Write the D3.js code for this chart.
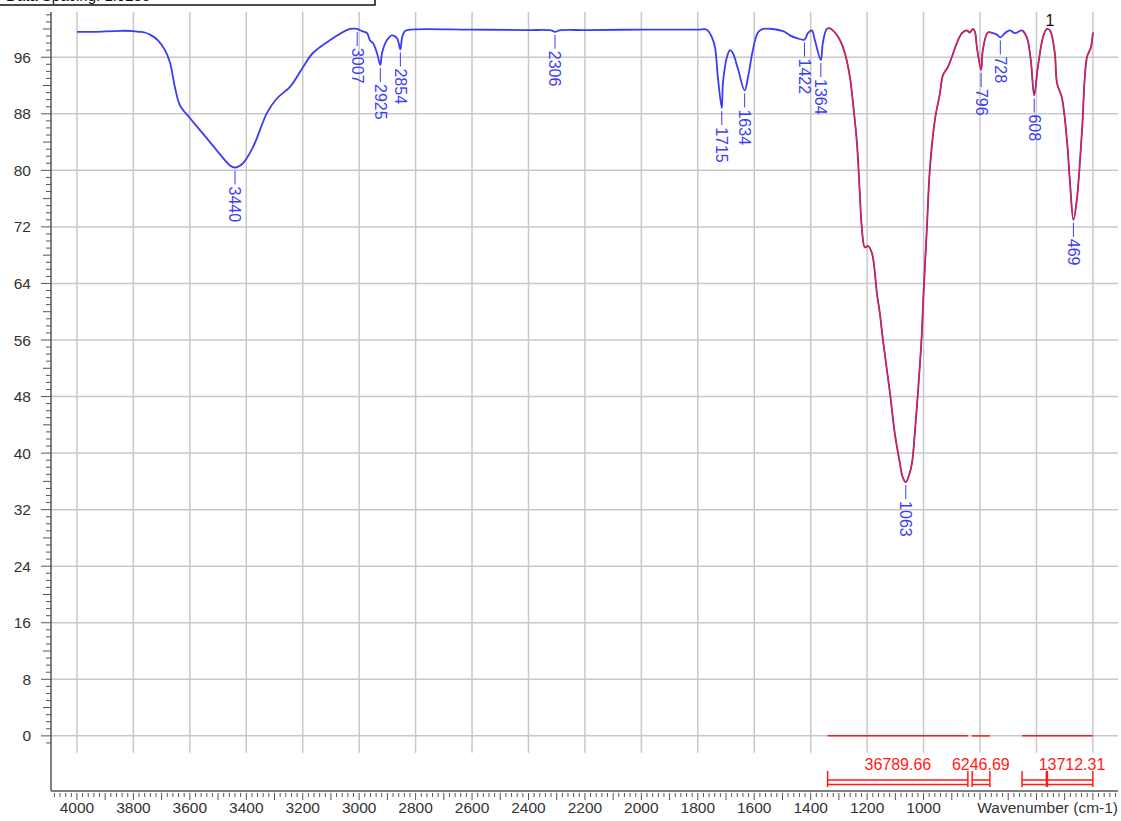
<!DOCTYPE html>
<html><head><meta charset="utf-8">
<script src="https://cdn.jsdelivr.net/npm/d3@7"></script>
<style>body{margin:0;background:#fff}svg{display:block;font-family:"Liberation Sans",Arial,sans-serif}</style>
</head><body><svg id="c" width="1121" height="821"></svg>
<script>
// ---- data ----
const wavenumbers = [4000,3950,3900,3860,3830,3800,3780,3760,3741,3713,3688,3670,3653,3635,3600,3564,3504,3458,3440,3412,3376,3327,3291,3245,3199,3164,3104,3033,3015,3007,2990,2972,2962,2951,2937,2925,2919,2902,2884,2866,2854,2848,2838,2820,2600,2400,2320,2306,2290,2200,2000,1800,1768,1750,1739,1729,1715,1711,1697,1686,1676,1658,1634,1622,1605,1587,1569,1498,1474,1449,1422,1410,1396,1385,1364,1357,1343,1332,1314,1296,1279,1261,1250,1236,1226,1219,1208,1197,1183,1165,1155,1144,1119,1102,1084,1074,1063,1052,1041,1031,1020,1006,1002,988,978,960,942,931,914,900,882,864,847,836,825,818,811,796,790,772,754,740,728,712,694,676,651,634,620,608,595,577,563,552,535,527,510,492,481,469,457,439,421,407,400];
const transmittance = [99.6,99.6,99.65,99.7,99.75,99.7,99.6,99.5,99.2,98.4,97.0,95.2,91.8,89.2,87.4,85.7,82.8,80.7,80.4,81.0,83.3,88.1,90.2,91.8,94.6,96.6,98.4,100.0,100.05,100.0,99.7,99.4,98.4,98.0,96.6,94.9,96.6,98.4,99.1,98.7,97.1,98.8,99.7,99.9,99.9,99.85,99.8,99.6,99.8,99.85,99.9,99.9,99.9,98.8,97.4,93.2,88.8,92.3,96.0,97.0,96.6,94.4,91.3,93.2,97.0,99.5,100,99.7,99.1,98.7,98.5,99.4,99.8,98.4,95.6,98.0,100.0,100.1,99.5,98.4,96.6,93.2,89.5,83.8,76.8,72.0,69.1,69.3,68.3,62.5,59.8,56.0,48.5,42.8,38.6,36.6,35.9,36.8,38.6,42.8,48.5,57,61,72,80,87.1,90.9,93.5,94.6,96.0,98.0,99.4,99.8,99.5,100,99.6,97.4,94.2,97.0,99.5,99.4,99.2,98.8,99.4,99.8,99.4,99.8,98.8,95.6,90.6,94.6,98.8,100,99.8,96.6,92.3,90.3,84.3,78.2,73.0,75.8,85.3,96.0,97.4,99.5];
const peakLabels = [3440,3007,2925,2854,2306,1715,1634,1422,1364,1063,796,728,608,469];
const redRanges = [[1340,843],[828,765],[651,400]];
const integralValues = ["36789.66","6246.69","13712.31"];
const integralLabelAt = [1091,797,474];
const bracketSplits = [null,null,563];
const xTickLabels = [4000,3800,3600,3400,3200,3000,2800,2600,2400,2200,2000,1800,1600,1400,1200,1000];
const yTickLabels = [0,8,16,24,32,40,48,56,64,72,80,88,96];
const xAxisTitle = "Wavenumber (cm-1)";
const headerText = "Data Spacing:        1.9285";

// ---- scales ----
const svg = d3.select("#c");
const x = d3.scaleLinear().domain([4092,311]).range([51,1118]);
const y = d3.scaleLinear().domain([-7.8,102.4]).range([791,12]);
const data = wavenumbers.map((w,i)=>({w, v: transmittance[i]}));
const gridCol = "#c8c8c8", axisCol = "#555", txtCol = "#333";
const blue = "#3c3cf5", red = "#ff1a1a";

// header box
svg.append("rect").attr("x",-2).attr("y",-30).attr("width",377).attr("height",35)
  .attr("fill","#fff").attr("stroke","#111").attr("stroke-width",1.5);
svg.append("text").attr("x",6).attr("y",1).attr("font-size",15).attr("fill","#111").text(headerText);

// grid
const g = svg.append("g");
g.selectAll(".vg").data(d3.range(4000,399,-200)).join("line")
  .attr("x1",d=>x(d)).attr("x2",d=>x(d)).attr("y1",y(102.4)).attr("y2",y(-2.4))
  .attr("stroke",gridCol).attr("stroke-width",1.5);
g.selectAll(".hg").data(yTickLabels).join("line")
  .attr("x1",x(4092)).attr("x2",x(311)).attr("y1",d=>y(d)).attr("y2",d=>y(d))
  .attr("stroke",gridCol).attr("stroke-width",1.5);

// axes lines
svg.append("line").attr("x1",x(4092)).attr("x2",x(4092)).attr("y1",y(102.4)).attr("y2",y(-7.8)).attr("stroke",axisCol).attr("stroke-width",1.5);
svg.append("line").attr("x1",x(4092)).attr("x2",x(311)).attr("y1",y(-7.8)).attr("y2",y(-7.8)).attr("stroke",axisCol).attr("stroke-width",1.5);

// y ticks
const yt = d3.range(-1,103,1);
svg.selectAll(".yt").data(yt).join("line")
  .attr("x1",d=> x(4092) - (d%8===0?10:(d%4===0?8:5))).attr("x2",x(4092))
  .attr("y1",d=>y(d)).attr("y2",d=>y(d)).attr("stroke",axisCol).attr("stroke-width",1);
svg.selectAll(".yl").data(yTickLabels).join("text")
  .attr("x",31).attr("y",d=>y(d)).attr("dy","0.36em").attr("text-anchor","end")
  .attr("font-size",15.5).attr("fill",txtCol).text(d=>d);

// x ticks
const xt = d3.range(4080,319,-20);
svg.selectAll(".xt").data(xt).join("line")
  .attr("x1",d=>x(d)).attr("x2",d=>x(d)).attr("y1",y(-7.8)+2)
  .attr("y2",d=> y(-7.8) + (d%100===0?9:6)).attr("stroke",axisCol).attr("stroke-width",1);
svg.selectAll(".xl").data(xTickLabels).join("text")
  .attr("x",d=>x(d)).attr("y",813).attr("text-anchor","middle")
  .attr("font-size",15.5).attr("fill",txtCol).text(d=>d);
svg.append("text").attr("x",x(311)).attr("y",813).attr("text-anchor","end")
  .attr("font-size",15.5).attr("fill",txtCol).text(xAxisTitle);

// spectrum
const line = d3.line().x(d=>x(d.w)).y(d=>y(d.v)).curve(d3.curveMonotoneX.constructor ? d3.curveCatmullRom.alpha(0.5) : d3.curveLinear);
svg.append("path").datum(data).attr("d",line).attr("fill","none").attr("stroke",blue).attr("stroke-width",1.8);
redRanges.forEach(r=>{
  const seg = data.filter(d=>d.w<=r[0]+12 && d.w>=r[1]-12);
  svg.append("path").datum(seg).attr("d",line).attr("fill","none").attr("stroke",red).attr("stroke-width",1.2);
});

// peak labels
const findV = w => { const d = data.find(p=>p.w===w); return d ? d.v : 99.8; };
peakLabels.forEach(w=>{
  const py = y(findV(w));
  svg.append("line").attr("x1",x(w)).attr("x2",x(w)).attr("y1",py+3).attr("y2",py+17).attr("stroke",blue).attr("stroke-width",1);
  svg.append("text").attr("transform",`translate(${x(w)},${py+19}) rotate(90)`)
    .attr("dy","0.35em").attr("font-size",16).attr("fill",blue).text(w);
});
svg.append("text").attr("x",x(552)).attr("y",26).attr("text-anchor","middle").attr("font-size",16).attr("fill","#111").text("1");

// integrals
redRanges.forEach((r,i)=>{
  svg.append("line").attr("x1",x(r[0])).attr("x2",x(r[1])).attr("y1",y(0)).attr("y2",y(0)).attr("stroke",red).attr("stroke-width",1.5);
  const b = svg.append("g").attr("stroke",red).attr("stroke-width",1.5);
  b.append("line").attr("x1",x(r[0])).attr("x2",x(r[1])).attr("y1",780).attr("y2",780);
  b.append("line").attr("x1",x(r[0])).attr("x2",x(r[1])).attr("y1",784.5).attr("y2",784.5);
  [r[0],r[1]].forEach(e=> b.append("line").attr("x1",x(e)).attr("x2",x(e)).attr("y1",771).attr("y2",787));
  if (bracketSplits[i]) b.append("line").attr("x1",x(bracketSplits[i])).attr("x2",x(bracketSplits[i])).attr("y1",771).attr("y2",787).attr("stroke-width",2.5);
  svg.append("text").attr("x",x(integralLabelAt[i])).attr("y",770).attr("text-anchor","middle")
    .attr("font-size",16).attr("fill",red).text(integralValues[i]);
});
</script></body></html>
